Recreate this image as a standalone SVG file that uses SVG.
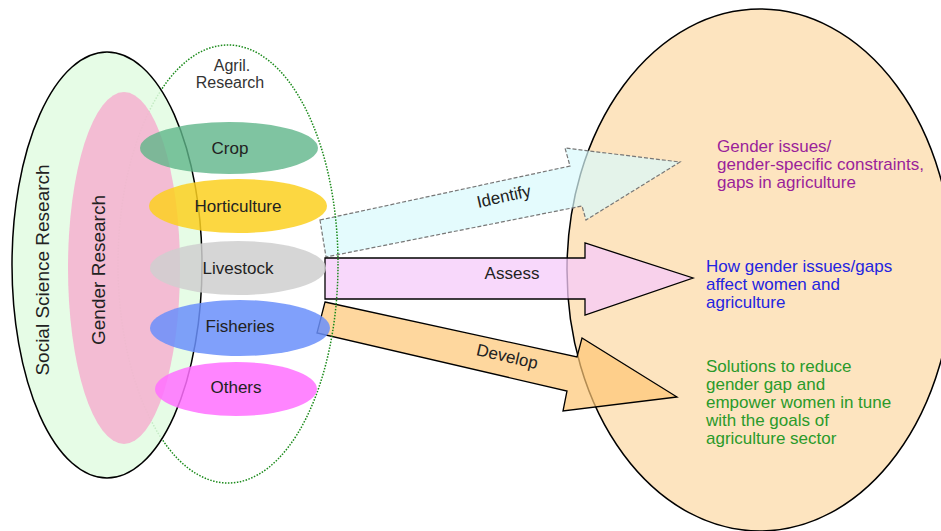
<svg xmlns="http://www.w3.org/2000/svg" width="941" height="531" viewBox="0 0 941 531">
<style>
text{font-family:"Liberation Sans",Arial,sans-serif;}
.cat{font-size:17px;fill:#222;text-anchor:middle;}
.lbl{font-size:17px;fill:#222;text-anchor:middle;}
.big{font-size:19px;fill:#222;text-anchor:middle;}
.r{font-size:17px;}
</style>
<rect width="941" height="531" fill="#fff"/>
<g id="outcome">
<ellipse cx="760" cy="270" rx="193" ry="261" fill="#fde4bf" stroke="#000" stroke-width="1.5"/>
</g>
<g id="connectors">
<g id="identify">
<polygon points="320,220 570,166 565,148 680,162 586,220 582,206 326,257" fill="#d8fafc" fill-opacity="0.7" stroke="#777" stroke-width="1.2" stroke-dasharray="4,2"/>
<text class="lbl" transform="translate(505,202) rotate(-12.5)">Identify</text>
</g>
<g id="assess">
<polygon points="325,258 585,258 585,243 693,278 585,315 585,299 325,299" fill="#f5cbfa" fill-opacity="0.75" stroke="#000" stroke-width="1.3"/>
<text class="lbl" x="512" y="279">Assess</text>
</g>
<g id="develop">
<polygon points="325,302 577,357 582,338 677,397 563,411 567,391 317,333" fill="#fdc675" fill-opacity="0.7" stroke="#000" stroke-width="1.3"/>
<text class="lbl" transform="translate(506,362) rotate(13)">Develop</text>
</g>
</g>
<g id="agril-research">
<ellipse cx="228" cy="264" rx="110" ry="219" fill="none" stroke="#1a8a1a" stroke-width="1.5" stroke-dasharray="1.5,1.5"/>
<text x="232" y="71" font-size="16" fill="#333" text-anchor="middle">Agril.</text>
<text x="230" y="88" font-size="16" fill="#333" text-anchor="middle">Research</text>
</g>
<g id="social-science-research">
<ellipse cx="107" cy="265" rx="95" ry="213" fill="#e2fbe2" fill-opacity="0.85" stroke="#000" stroke-width="1.5"/>
<text class="big" transform="translate(49,270) rotate(-90)">Social Science Research</text>
</g>
<g id="gender-research">
<ellipse cx="124" cy="268" rx="56" ry="176" fill="#f4b5d0" fill-opacity="0.9"/>
<text class="big" transform="translate(105,270) rotate(-90)">Gender Research</text>
</g>
<g id="crop">
<ellipse cx="229" cy="148" rx="89" ry="26" fill="#5fb58a" fill-opacity="0.8"/>
<text class="cat" x="230" y="154">Crop</text>
</g>
<g id="horticulture">
<ellipse cx="238" cy="206" rx="89" ry="27" fill="#fbd020" fill-opacity="0.85"/>
<text class="cat" x="238" y="212">Horticulture</text>
</g>
<g id="livestock">
<ellipse cx="238" cy="268" rx="88" ry="27" fill="#cfcfcf" fill-opacity="0.85"/>
<text class="cat" x="238" y="274">Livestock</text>
</g>
<g id="fisheries">
<ellipse cx="240" cy="328" rx="90" ry="28" fill="#6a8ffa" fill-opacity="0.85"/>
<text class="cat" x="240" y="332">Fisheries</text>
</g>
<g id="others">
<ellipse cx="236" cy="389" rx="81" ry="27" fill="#ff70ff" fill-opacity="0.85"/>
<text class="cat" x="236" y="393">Others</text>
</g>
<g id="outcome-texts">
<text class="r" fill="#9a1f9a"><tspan x="717" y="152">Gender issues/</tspan><tspan x="717" y="170">gender-specific constraints,</tspan><tspan x="717" y="188">gaps in agriculture</tspan></text>
<text class="r" fill="#2424e0"><tspan x="706" y="272">How gender issues/gaps</tspan><tspan x="706" y="290">affect women and</tspan><tspan x="706" y="308">agriculture</tspan></text>
<text class="r" fill="#2a9a2a"><tspan x="706" y="372">Solutions to reduce</tspan><tspan x="706" y="390">gender gap and</tspan><tspan x="706" y="408">empower women in tune</tspan><tspan x="706" y="426">with the goals of</tspan><tspan x="706" y="444">agriculture sector</tspan></text>
</g>
</svg>
